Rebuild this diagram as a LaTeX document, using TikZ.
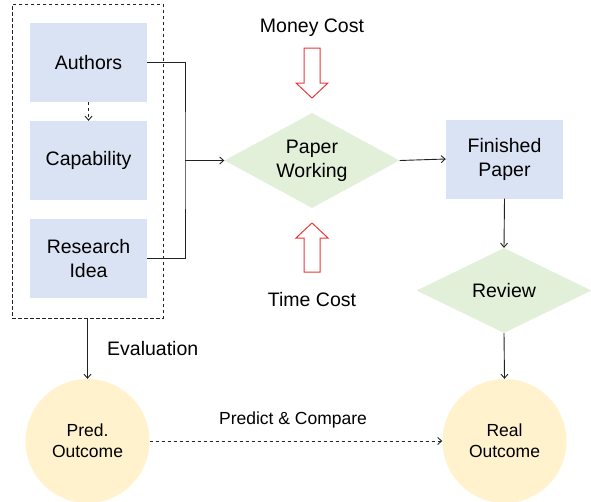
\documentclass[tikz,border=0pt]{standalone}
\usepackage{fontspec}
\setmainfont{Liberation Sans}
\usetikzlibrary{shapes.geometric,arrows.meta}
\definecolor{boxblue}{HTML}{DAE3F3}
\definecolor{diagreen}{HTML}{E2F0D9}
\definecolor{circyellow}{HTML}{FFF2CC}
\definecolor{linegray}{HTML}{222222}
\definecolor{costred}{HTML}{E8393A}
\tikzset{
  bluebox/.style={rectangle,fill=boxblue,minimum width=117pt,minimum height=79pt,inner sep=0pt,align=center,font=\fontsize{19.5}{24}\selectfont},
  greendia/.style={diamond,fill=diagreen,inner sep=0pt,align=center,font=\fontsize{19.5}{24}\selectfont},
  yellowcirc/.style={circle,fill=circyellow,minimum size=124pt,inner sep=0pt,align=center,font=\fontsize{17.5}{21}\selectfont},
  conn/.style={draw=linegray,line width=0.9pt,-{Straight Barb[length=4pt,width=7pt]}},
  plainconn/.style={draw=linegray,line width=0.9pt},
  dashline/.style={dash pattern=on 3.5pt off 2.5pt},
  lbl/.style={font=\fontsize{19.5}{24}\selectfont,inner sep=0pt},
  costarrow/.style={draw=costred,line width=1pt,fill=white,line join=miter}
}
\begin{document}
\begin{tikzpicture}[x=1pt,y=-1pt]
\useasboundingbox (0,0) rectangle (591,501);
% group box
\node[draw=linegray,dashline,line width=0.9pt,minimum width=151pt,minimum height=314pt,inner sep=0pt] (grp) at (87.5,161) {};
\node[bluebox] (authors) at (88.5,62.5) {Authors};
\node[bluebox] (cap) at (88.5,160.5) {Capability};
\node[bluebox] (idea) at (88.5,258.5) {Research\\Idea};
% paper working
\node[greendia,aspect=1.84,minimum width=175pt,minimum height=95pt] (pw) at (312,160.5) {Paper\\Working};
\node[lbl] (money) at (312,27.5) {Money Cost};
\node[lbl] (time) at (312,300) {Time Cost};
\draw[costarrow] (304,48) -- (320,48) -- (320,83) -- (328,83) -- (312,98) -- (296,83) -- (304,83) -- cycle;
\draw[costarrow] (304,272) -- (320,272) -- (320,238) -- (328,238) -- (312,223) -- (296,238) -- (304,238) -- cycle;
% right column
\node[bluebox] (fp) at (504.5,159) {Finished\\Paper};
\node[greendia,aspect=2.06,minimum width=175pt,minimum height=85pt] (rev) at (504,290.5) {Review};
\node[yellowcirc] (real) at (504.5,441) {Real\\Outcome};
\node[yellowcirc] (pred) at (87.5,441) {Pred.\\Outcome};
% connectors
\coordinate (j) at (185,160.5);
\draw[conn,dashed] (authors) -- (cap);
\draw[plainconn] (authors.east) -| (j) |- (idea.east);
\draw[conn] (j) -- (pw.west);
\draw[conn] (pw.east) -- (fp.west);
\draw[conn] (fp.south) -- (rev.north);
\draw[conn] (rev.south) -- (real.north);
\draw[conn] (grp.south) -- (pred.north);
\node[lbl,anchor=west] (eval) at (107,349) {Evaluation};
\draw[conn,dashed] (pred.east) -- (real.west);
\node[lbl,font=\fontsize{17.5}{21}\selectfont] (pc) at (293,420) {Predict \& Compare};
\end{tikzpicture}
\end{document}
